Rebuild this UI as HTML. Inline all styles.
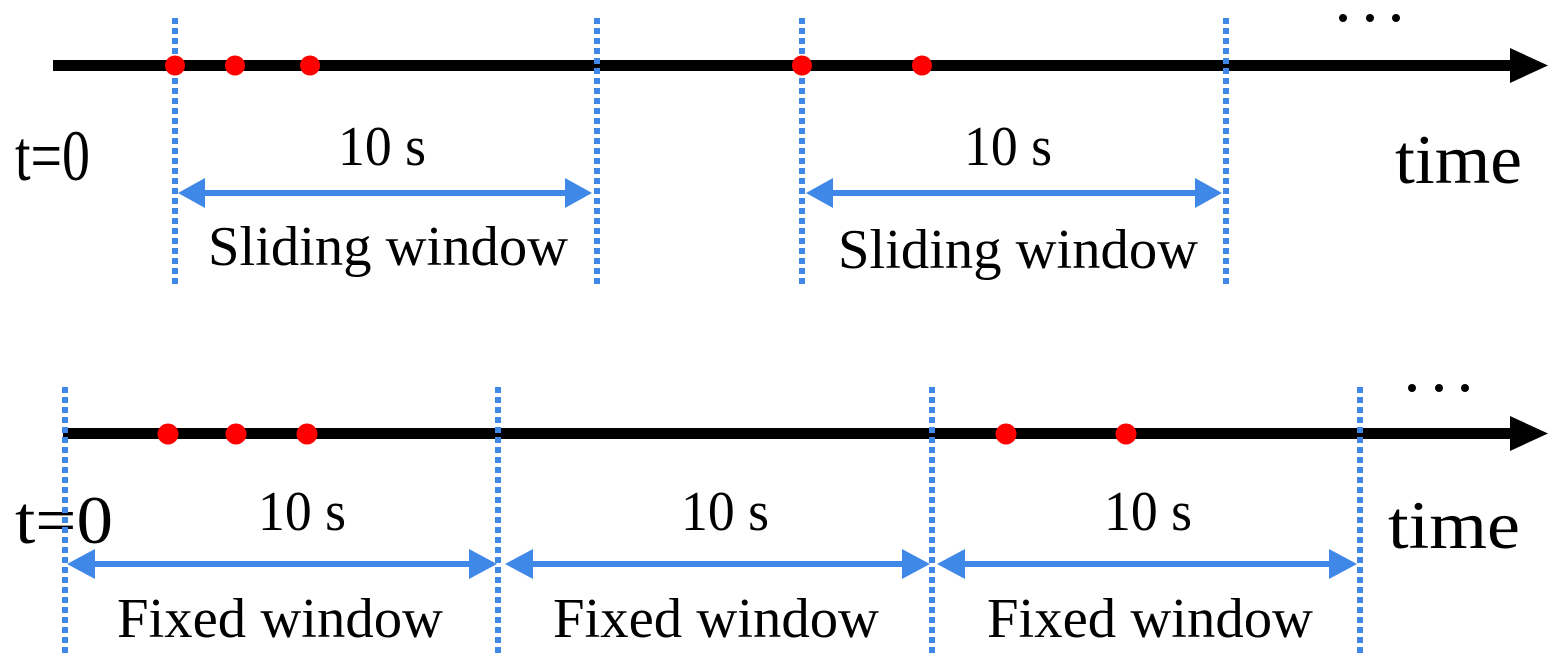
<!DOCTYPE html>
<html><head><meta charset="utf-8"><style>
html,body{margin:0;padding:0;background:#fff;}
svg{display:block}
text{font-family:"Liberation Serif",serif;fill:#000}
</style></head><body>
<svg width="1556" height="666" viewBox="0 0 1556 666" xmlns="http://www.w3.org/2000/svg">
<defs>
<g id="dots3"><circle cx="0" cy="0" r="4" fill="#000"/><circle cx="27" cy="0" r="4" fill="#000"/><circle cx="53" cy="0" r="4" fill="#000"/></g>
</defs>
<text x="15" y="180" font-size="72" textLength="75" lengthAdjust="spacingAndGlyphs">t=0</text>
<text x="1395" y="183" font-size="70" textLength="127" lengthAdjust="spacingAndGlyphs">time</text>
<text x="338" y="165" font-size="56" textLength="88" lengthAdjust="spacingAndGlyphs">10 s</text>
<text x="208" y="265" font-size="56" textLength="360" lengthAdjust="spacingAndGlyphs">Sliding window</text>
<text x="964" y="165" font-size="56" textLength="88" lengthAdjust="spacingAndGlyphs">10 s</text>
<text x="838" y="268" font-size="56" textLength="360" lengthAdjust="spacingAndGlyphs">Sliding window</text>
<use href="#dots3" x="1343" y="18"/>
<rect x="53" y="60" width="1462" height="11" fill="#000"/>
<polygon points="1510,48 1548,65.5 1510,83" fill="#000"/>
<g fill="#3f88e8">
<rect x="200" y="190" width="370" height="6"/>
<polygon points="178,193 205,178 205,208"/>
<polygon points="592,193 565,178 565,208"/>
<rect x="830" y="190" width="370" height="6"/>
<polygon points="806,193 833,178 833,208"/>
<polygon points="1222,193 1195,178 1195,208"/>
</g>
<g stroke="#3f88e8" stroke-width="6" stroke-dasharray="6,4">
<line x1="175" y1="18" x2="175" y2="286"/>
<line x1="597" y1="18" x2="597" y2="286"/>
<line x1="802" y1="18" x2="802" y2="286"/>
<line x1="1226" y1="18" x2="1226" y2="286"/>
</g>
<g fill="#f00">
<circle cx="175" cy="65.5" r="10"/><circle cx="235" cy="65.5" r="10"/><circle cx="310" cy="65.5" r="10"/>
<circle cx="802" cy="65.5" r="10"/><circle cx="922" cy="65.5" r="10"/>
</g>

<text x="15" y="543" font-size="68" textLength="98" lengthAdjust="spacingAndGlyphs">t=0</text>
<text x="1388" y="548" font-size="68" textLength="132" lengthAdjust="spacingAndGlyphs">time</text>
<text x="258" y="530" font-size="56" textLength="88" lengthAdjust="spacingAndGlyphs">10 s</text>
<text x="681" y="530" font-size="56" textLength="88" lengthAdjust="spacingAndGlyphs">10 s</text>
<text x="1104" y="530" font-size="56" textLength="88" lengthAdjust="spacingAndGlyphs">10 s</text>
<text x="117" y="637" font-size="56" textLength="326" lengthAdjust="spacingAndGlyphs">Fixed window</text>
<text x="553" y="637" font-size="56" textLength="326" lengthAdjust="spacingAndGlyphs">Fixed window</text>
<text x="987" y="637" font-size="56" textLength="326" lengthAdjust="spacingAndGlyphs">Fixed window</text>
<use href="#dots3" x="1412" y="388"/>
<rect x="63" y="428" width="1452" height="11" fill="#000"/>
<polygon points="1510,416 1548,433.5 1510,451" fill="#000"/>
<g fill="#3f88e8">
<rect x="90" y="561" width="385" height="6"/>
<polygon points="67,564 95,549 95,579"/>
<polygon points="497,564 469,549 469,579"/>
<rect x="528" y="561" width="380" height="6"/>
<polygon points="505,564 533,549 533,579"/>
<polygon points="930,564 902,549 902,579"/>
<rect x="960" y="561" width="380" height="6"/>
<polygon points="937,564 965,549 965,579"/>
<polygon points="1357,564 1329,549 1329,579"/>
</g>
<g stroke="#3f88e8" stroke-width="6" stroke-dasharray="6,4">
<line x1="65" y1="387" x2="65" y2="656"/>
<line x1="498" y1="387" x2="498" y2="656"/>
<line x1="932" y1="387" x2="932" y2="656"/>
<line x1="1360" y1="387" x2="1360" y2="656"/>
</g>
<g fill="#f00">
<circle cx="168" cy="434" r="10.5"/><circle cx="236" cy="434" r="10.5"/><circle cx="307" cy="434" r="10.5"/>
<circle cx="1006" cy="434" r="10.5"/><circle cx="1126" cy="434" r="10.5"/>
</g>
</svg>
</body></html>
